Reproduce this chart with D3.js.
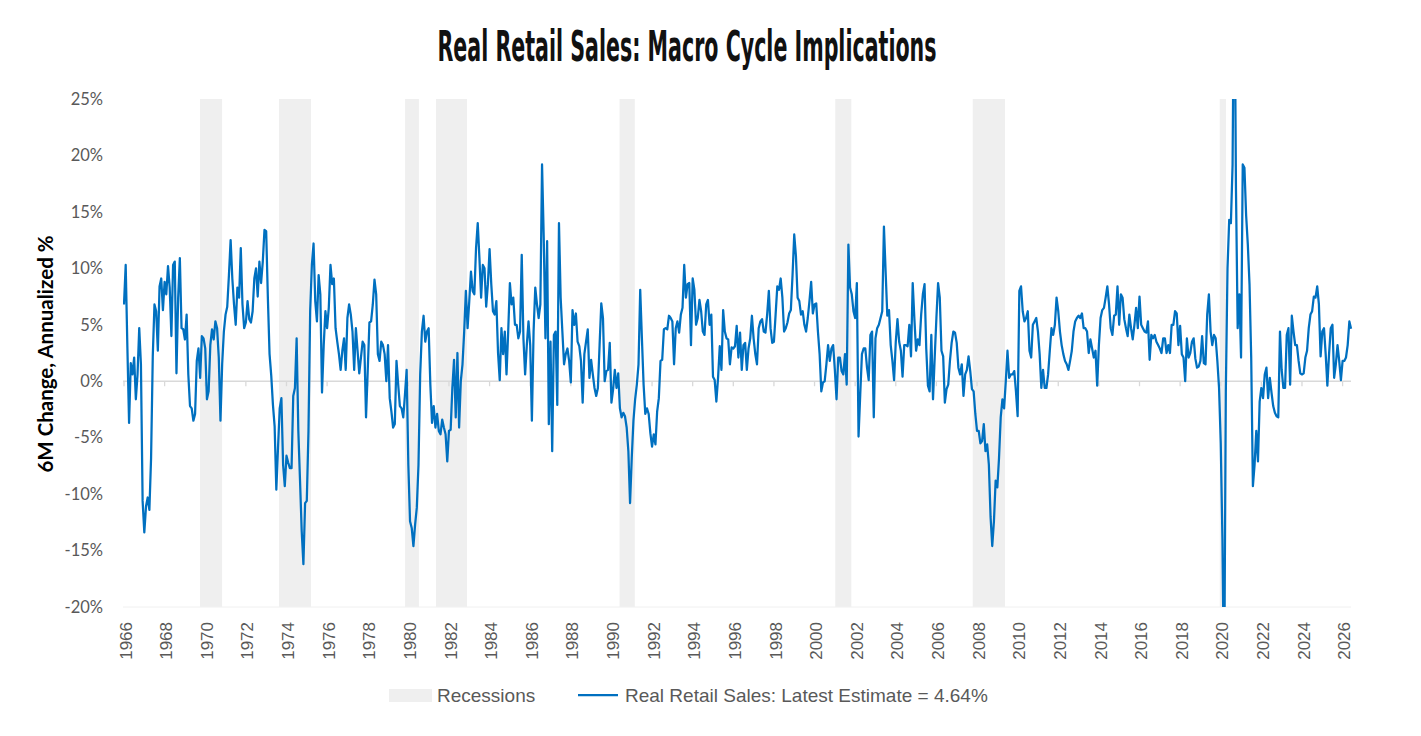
<!DOCTYPE html>
<html>
<head>
<meta charset="utf-8">
<script src="https://cdn.jsdelivr.net/npm/d3@7"></script>
<style>
  html, body { margin: 0; padding: 0; background: #fff; }
</style>
</head>
<body>
<div class="chart"></div>
<script>
// 6M change annualized %, monthly from Jan 1966 (one row per year)
const rs1966to1975 = [
  6.8, 10.3, 3.0, -3.7, 1.6, 0.6, 2.1, -1.6, 0.6, 4.7, 1.5, -10.6,
  -13.4, -11.1, -10.3, -11.4, -6.8, 2.2, 6.8, 6.2, 2.7, 8.4, 9.1, 6.3,
  8.8, 7.7, 10.2, 8.3, 4.0, 10.3, 10.6, 0.7, 7.4, 10.9, 4.7, 4.6,
  3.7, 5.9, 0.6, -2.2, -2.4, -3.5, -2.9, 1.8, 2.9, 0.3, 4.0, 3.8,
  2.9, -1.6, -0.9, 3.2, 4.6, 3.7, 5.3, 4.7, 2.1, -3.5, 1.5, 4.4,
  5.9, 6.6, 9.4, 12.5, 9.1, 6.8, 5.0, 8.3, 7.4, 11.8, 6.8, 4.7,
  5.2, 7.1, 5.5, 5.2, 6.2, 9.1, 10.0, 7.5, 10.6, 8.7, 10.6, 13.4,
  13.3, 7.4, 2.4, 0.5, -2.1, -4.0, -9.6, -5.9, -2.4, -1.5, -7.4, -9.3,
  -6.6, -7.2, -7.7, -7.7, -1.3, -0.6, 3.8, -4.4, -8.8, -13.3, -16.2, -10.8,
  -10.6, -4.4, 6.2, 10.3, 12.2, 7.1, 5.3, 9.4, 7.7, -1.0, 3.2, 6.2
];
const rs1976to1985 = [
  4.7, 6.5, 10.3, 8.6, 9.1, 4.7, 3.5, 2.4, 1.0, 2.7, 3.8, 1.0,
  5.6, 6.8, 5.9, 4.4, 1.0, 4.7, 2.7, 0.7, 2.1, 3.5, 3.2, -3.2,
  0.9, 5.2, 5.3, 6.8, 9.0, 7.7, 2.4, 1.8, 3.5, 3.2, 2.4, 0.0,
  3.2, -1.5, -2.7, -4.1, -3.8, 1.8, -0.3, -2.2, -2.4, -3.2, -1.2, 1.0,
  -7.4, -12.4, -13.0, -14.6, -12.7, -11.2, -7.4, 0.6, 4.4, 5.8, 3.5, 4.4,
  4.7, -0.3, -3.7, -2.2, -4.1, -2.9, -4.4, -4.7, -3.4, -4.1, -4.7, -7.1,
  -4.4, -4.3, -0.6, 1.9, -3.2, 2.5, -4.1, 0.0, 1.5, 4.4, 8.0, 4.7,
  7.1, 9.7, 8.0, 7.7, 11.8, 14.0, 10.9, 7.4, 10.3, 10.0, 6.6, 8.6,
  11.7, 8.6, 6.2, 5.9, 7.1, 2.5, 0.1, 4.7, 2.4, 4.4, 0.6, 4.4,
  8.7, 6.8, 7.4, 5.0, 5.0, 3.8, 4.4, 11.2, 3.8, 0.6, 3.2, 5.3
];
const rs1986to1995 = [
  3.2, -3.5, 4.4, 8.3, 6.8, 5.6, 6.8, 19.2, 12.7, 3.8, 12.4, -3.8,
  3.5, -6.2, 4.1, 4.4, -2.1, 14.0, 7.4, 4.4, 1.5, 2.4, 2.9, 1.8,
  -0.1, 6.3, 5.0, 6.0, 3.5, 3.1, 1.8, -1.9, 2.4, 3.5, 4.6, 0.3,
  1.9, 0.6, -0.6, -1.3, -0.6, 3.2, 6.9, 5.6, 0.0, 0.9, 1.0, 3.4,
  -1.9, -0.7, 1.0, -0.6, 0.7, -2.4, -3.2, -2.8, -3.1, -4.1, -6.2, -10.8,
  -6.8, -3.5, -1.6, -0.3, 1.5, 8.1, 3.8, -0.3, -2.9, -2.4, -2.9, -4.6,
  -5.8, -4.7, -5.6, -2.7, -1.5, 1.8, 1.9, 4.6, 4.7, 4.6, 5.8, 5.6,
  5.3, 1.5, 4.7, 5.3, 4.3, 5.9, 6.5, 10.3, 7.4, 8.6, 8.7, 3.2,
  9.1, 8.1, 5.0, 5.6, 7.2, 6.2, 4.4, 4.1, 6.8, 7.2, 5.0, 5.9,
  0.4, 0.1, -1.8, 0.3, 3.1, 1.0, 6.3, 4.4, 3.8, 3.7, 1.5, 3.0
];
const rs1996to2005 = [
  2.9, 3.1, 4.9, 2.1, 4.3, 1.0, 3.2, 3.4, 1.0, 2.9, 3.8, 5.8,
  3.8, 2.4, 1.5, 4.7, 5.3, 5.5, 4.4, 4.3, 5.9, 8.0, 4.7, 3.4,
  3.5, 5.9, 8.4, 8.1, 9.1, 7.4, 4.4, 4.7, 5.2, 6.0, 6.3, 9.4,
  13.0, 11.1, 7.4, 7.1, 5.9, 6.2, 5.0, 4.4, 5.6, 7.1, 8.8, 6.0,
  6.8, 6.9, 4.4, 2.4, -0.9, -0.1, 0.0, 1.5, 3.2, 1.8, 2.9, 3.2,
  1.0, -1.6, 2.1, 2.1, 0.9, 0.6, 2.4, -0.3, 12.1, 8.3, 7.7, 6.2,
  5.6, 8.7, -4.9, -1.2, 2.4, 2.9, 2.9, 1.2, 0.1, 4.1, 4.4, -3.2,
  3.8, 4.7, 5.0, 5.6, 6.2, 13.7, 9.7, 5.8, 6.3, 3.2, 1.8, 0.1,
  3.5, 5.5, 3.5, 2.7, 0.4, 3.2, 3.2, 3.1, 5.0, 2.2, 8.7, 5.5,
  2.7, 3.7, 3.2, 5.9, 7.7, 8.6, 2.9, -0.4, -0.9, 4.1, -1.6, 2.1
];
const rs2006to2015 = [
  5.6, 8.7, 7.4, 2.7, 2.2, -1.9, -0.7, -0.3, 1.8, 3.4, 4.4, 4.3,
  3.4, 1.2, 0.6, 1.5, -1.3, 0.6, 1.0, 2.2, 0.9, -0.7, -0.9, -2.9,
  -4.4, -4.4, -5.5, -5.3, -3.8, -6.2, -5.6, -7.4, -12.0, -14.6, -12.4, -8.8,
  -9.4, -6.8, -3.2, -1.6, -2.4, 0.0, 2.7, 0.3, 0.6, 0.6, 0.9, -0.9,
  -3.1, 8.0, 8.4, 6.2, 5.3, 5.6, 6.2, 2.7, 2.1, 5.0, 5.3, 5.6,
  4.4, 2.4, -0.6, 1.0, -0.6, -0.6, 0.6, 2.7, 4.7, 4.1, 5.0, 7.4,
  6.2, 4.4, 3.2, 2.4, 1.8, 1.5, 1.0, 1.8, 2.7, 4.4, 5.3, 5.6,
  5.8, 5.6, 6.0, 4.7, 4.7, 4.4, 2.5, 3.7, 2.9, 2.1, 2.7, -0.4,
  3.2, 5.6, 6.3, 6.5, 7.4, 8.4, 6.8, 4.7, 4.1, 5.8, 5.9, 8.4,
  5.0, 7.7, 7.4, 5.5, 4.7, 4.0, 5.9, 4.7, 3.7, 5.0, 6.5, 4.7
];
const rs2016to2026 = [
  7.5, 5.0, 4.7, 4.4, 4.3, 5.3, 1.9, 4.1, 3.8, 4.1, 3.5, 3.2,
  2.9, 2.5, 3.8, 3.8, 2.5, 3.2, 2.5, 5.0, 5.0, 6.2, 6.0, 3.2,
  4.9, 2.4, 2.1, 0.0, 3.8, 2.1, 2.5, 3.5, 3.8, 2.0, 1.2, 1.3,
  1.8, 4.0, 1.6, 1.5, 5.9, 7.7, 4.4, 3.2, 4.1, 3.8, 1.8, -0.6,
  -5.5, -14.0, -28.0, -1.0, 10.0, 14.3, 14.0, 19.2, 40.0, 17.0, 4.7, 7.7,
  2.1, 19.2, 18.9, 14.7, 12.1, 8.6, 2.1, -9.3, -7.4, -4.4, -7.1, -1.8,
  -0.6, -1.5, 0.6, 1.2, -1.5, 0.3, -1.0, -2.2, -2.8, -3.1, -3.2, 4.4,
  1.0, -0.6, -0.6, 4.1, 4.7, -0.3, 5.8, 4.4, 3.2, 3.2, 1.8, 0.7,
  0.6, 0.7, 2.1, 2.7, 4.7, 5.9, 6.2, 7.5, 7.4, 8.4, 6.8, 2.2,
  4.4, 4.7, 2.4, -0.4, 2.4, 4.7, 5.0, 0.3, 1.5, 3.2, 1.8, 0.1,
  1.8, 1.8, 2.1, 3.2, 5.3, 4.64
];

// recession shading, decimal years as drawn
const recessionStart = [1969.74, 1973.63, 1979.84, 1981.36, 1990.40, 2001.02, 2007.79, 2019.95];
const recessionEnd   = [1970.83, 1975.21, 1980.52, 1982.89, 1991.15, 2001.81, 2009.38, 2020.26];

const yearTicks = [1966, 1968, 1970, 1972, 1974, 1976, 1978, 1980, 1982, 1984, 1986,
  1988, 1990, 1992, 1994, 1996, 1998, 2000, 2002, 2004, 2006, 2008, 2010, 2012,
  2014, 2016, 2018, 2020, 2022, 2024, 2026];
const pctTicks = [-20, -15, -10, -5, 0, 5, 10, 15, 20, 25];

const latest = 4.64;

const W = 1421, H = 736;
const plotL = 123, plotR = 1351, plotT = 99, plotB = 607;

const values = [].concat(rs1966to1975, rs1976to1985, rs1986to1995,
  rs1996to2005, rs2006to2015, rs2016to2026);
const series = values.map((v, i) => ({ date: 1966 + i / 12, value: v }));

const svg = d3.select(".chart")
  .append("svg")
  .attr("width", W)
  .attr("height", H);

const x = d3.scaleLinear().domain([1966, 2026]).range([124, 1342.6]);
const y = d3.scaleLinear().domain([-20, 25]).range([plotB, plotT]);

// recessions
svg.append("g")
  .selectAll("rect")
  .data(recessionStart)
  .enter()
  .append("rect")
  .attr("x", d => x(d))
  .attr("width", (d, i) => x(recessionEnd[i]) - x(d))
  .attr("y", plotT)
  .attr("height", plotB - plotT)
  .attr("fill", "#efefef");

// faint bottom edge
svg.append("line")
  .attr("x1", plotL).attr("x2", plotR)
  .attr("y1", plotB).attr("y2", plotB)
  .attr("stroke", "#f0f0f0")
  .attr("stroke-width", 1);

// zero line with tick marks
svg.append("line")
  .attr("x1", plotL).attr("x2", plotR)
  .attr("y1", y(0)).attr("y2", y(0))
  .attr("stroke", "#d9d9d9")
  .attr("stroke-width", 1.5);

svg.append("g")
  .selectAll("line")
  .data(yearTicks)
  .enter()
  .append("line")
  .attr("x1", d => x(d)).attr("x2", d => x(d))
  .attr("y1", y(0)).attr("y2", y(0) + 5)
  .attr("stroke", "#d9d9d9")
  .attr("stroke-width", 1.3);

// line
svg.append("clipPath")
  .attr("id", "plot")
  .append("rect")
  .attr("x", plotL).attr("y", plotT)
  .attr("width", plotR - plotL + 2).attr("height", plotB - plotT);

const line = d3.line()
  .x(d => x(d.date))
  .y(d => y(d.value));

svg.append("path")
  .datum(series)
  .attr("clip-path", "url(#plot)")
  .attr("fill", "none")
  .attr("stroke", "#0070C0")
  .attr("stroke-width", 2.25)
  .attr("stroke-linejoin", "round")
  .attr("d", line);

// y axis
const yAxis = svg.append("g")
  .attr("transform", `translate(${plotL},0)`)
  .call(d3.axisLeft(y).tickValues(pctTicks).tickSize(0).tickPadding(20)
    .tickFormat(d => d + "%"));
yAxis.select(".domain").remove();
yAxis.selectAll("text")
  .attr("font-family", "Lato, 'Open Sans', sans-serif")
  .attr("font-size", 16.5)
  .attr("fill", "#595959");

// x axis labels
const xAxis = svg.append("g")
  .attr("transform", `translate(0,${plotB})`)
  .call(d3.axisBottom(x).tickValues(yearTicks).tickSize(0).tickFormat(d3.format("d")));
xAxis.select(".domain").remove();
xAxis.selectAll("text")
  .attr("font-family", "'Liberation Sans', Arial, sans-serif")
  .attr("font-size", 17)
  .attr("fill", "#595959")
  .attr("text-anchor", "end")
  .attr("transform", "translate(1,0) rotate(-90)")
  .attr("x", -15)
  .attr("y", 0)
  .attr("dy", "0.36em");

// title
svg.append("text")
  .attr("x", 687)
  .attr("y", 61)
  .attr("text-anchor", "middle")
  .attr("font-family", "'Liberation Sans Narrow', 'DejaVu Sans Condensed', sans-serif")
  .attr("font-weight", "bold")
  .attr("font-size", 42)
  .attr("textLength", 499)
  .attr("lengthAdjust", "spacingAndGlyphs")
  .attr("fill", "#111")
  .text("Real Retail Sales: Macro Cycle Implications");

// y label
svg.append("text")
  .attr("text-anchor", "middle")
  .attr("transform", "translate(53,354) rotate(-90)")
  .attr("font-family", "Lato, 'Open Sans', sans-serif")
  .attr("font-weight", "bold")
  .attr("font-size", 20.5)
  .attr("fill", "#000")
  .text("6M Change, Annualized %");

// legend
const legend = svg.append("g")
  .attr("font-family", "'Liberation Sans', Arial, sans-serif")
  .attr("font-size", 19)
  .attr("fill", "#595959");

legend.append("rect")
  .attr("x", 389).attr("y", 689)
  .attr("width", 43).attr("height", 13)
  .attr("fill", "#efefef");
legend.append("text")
  .attr("x", 437).attr("y", 702)
  .text("Recessions");

legend.append("line")
  .attr("x1", 578).attr("x2", 618)
  .attr("y1", 695).attr("y2", 695)
  .attr("stroke", "#0070C0")
  .attr("stroke-width", 2.25);
legend.append("text")
  .attr("x", 625).attr("y", 702)
  .text("Real Retail Sales: Latest Estimate = " + latest.toFixed(2) + "%");
</script>
</body>
</html>
